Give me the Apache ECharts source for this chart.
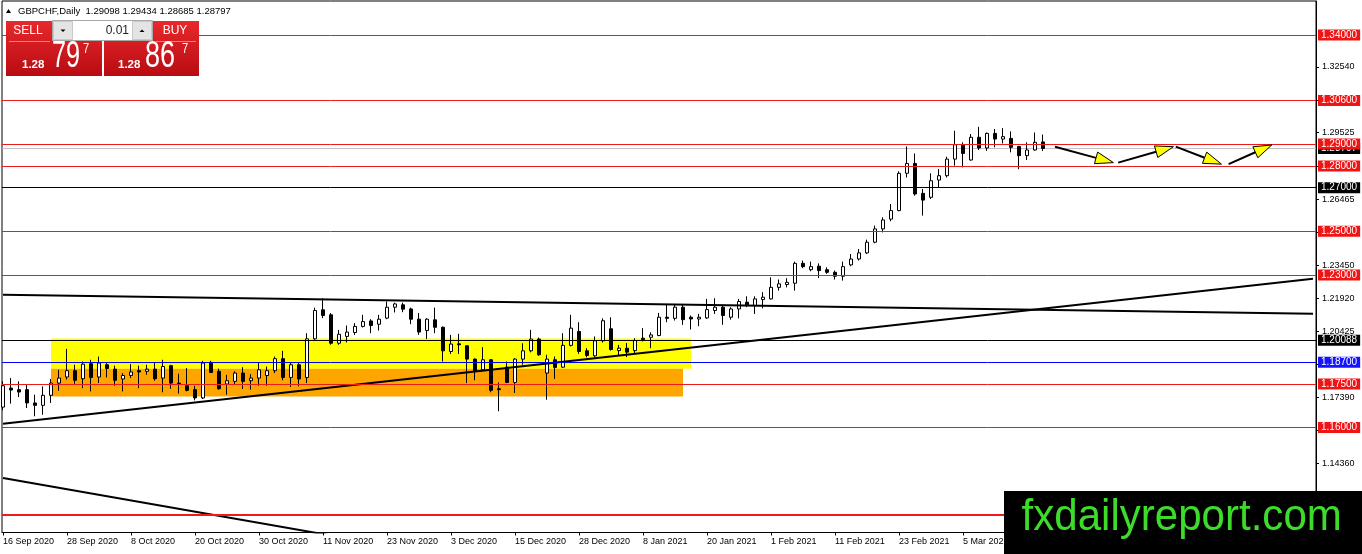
<!DOCTYPE html>
<html>
<head>
<meta charset="utf-8">
<title>GBPCHF Daily</title>
<script src="https://cdn.jsdelivr.net/npm/echarts@6.0.0/dist/echarts.min.js"></script>
<style>
  html, body { margin: 0; padding: 0; background: #fff; }
  #chart { width: 1362px; height: 554px; }
</style>
</head>
<body>
<div id="chart"></div>
<script>
// daily candles, bar 0 = 16 Sep 2020
const opens = [
  1.1694,1.1781,1.1774,1.1774,1.1713,1.1702,1.1748,1.1804,1.1832,1.1861,
  1.1824,1.1893,1.1832,1.1888,1.1868,1.1823,1.1839,1.1861,1.1858,1.1868,
  1.1827,1.1884,1.1804,1.1792,1.1774,1.1736,1.1899,1.1858,1.1800,1.1812,
  1.1850,1.1815,1.1827,1.1839,1.1861,1.1916,1.1830,1.1888,1.1830,1.2007,
  1.2140,1.2117,1.1987,1.2018,1.2036,1.2064,1.2089,1.2074,1.2102,1.2152,
  1.2163,1.2144,1.2097,1.2045,1.2094,1.2060,1.1949,1.1984,1.1975,1.1914,
  1.1865,1.1911,1.1778,1.1877,1.1807,1.1914,1.1952,1.2006,1.1850,1.1911,
  1.1877,1.1977,1.2041,1.1952,1.1929,1.1998,1.2053,1.1953,1.1964,1.1953,
  1.2010,1.2014,1.2022,1.2106,1.2101,1.2152,1.2106,1.2098,1.2103,1.2137,
  1.2152,1.2106,1.2144,1.2175,1.2159,1.2187,1.2190,1.2243,1.2256,1.2262,
  1.2353,1.2324,1.2340,1.2324,1.2312,1.2294,1.2346,1.2373,1.2401,1.2450,
  1.2511,1.2556,1.2595,1.2766,1.2811,1.2674,1.2656,1.2735,1.2755,1.2831,
  1.2897,1.2827,1.2931,1.2882,1.2949,1.2923,1.2926,1.2889,1.2847,1.2873,
  1.29098
];
const highs = [
  1.1812,1.1827,1.1812,1.1797,1.1751,1.1789,1.1823,1.1865,1.1961,1.1888,
  1.1903,1.1911,1.1926,1.1896,1.1884,1.1850,1.1891,1.1884,1.1888,1.1896,
  1.1911,1.1888,1.1847,1.1873,1.1792,1.1906,1.1906,1.1870,1.1842,1.1858,
  1.1877,1.1845,1.1896,1.1880,1.1926,1.1952,1.1899,1.1896,1.2033,1.2150,
  1.2193,1.2125,1.2048,1.2068,1.2079,1.2117,1.2097,1.2117,1.2178,1.2173,
  1.2173,1.2150,1.2125,1.2102,1.2150,1.2064,1.2025,1.2030,1.1977,1.1917,
  1.1969,1.1914,1.1807,1.1903,1.1919,1.1987,1.2048,1.2013,1.1934,1.1926,
  1.2033,1.2117,1.2083,1.1964,1.2018,1.2101,1.2106,1.1979,1.1988,1.2010,
  1.2056,1.2037,1.2126,1.2163,1.2163,1.2163,1.2114,1.2121,1.2190,1.2193,
  1.2163,1.2152,1.2190,1.2202,1.2202,1.2221,1.2289,1.2279,1.2285,1.2361,
  1.2366,1.2361,1.2353,1.2335,1.2320,1.2361,1.2396,1.2419,1.2462,1.2526,
  1.2564,1.2625,1.2775,1.2889,1.2857,1.2694,1.2766,1.2785,1.2842,1.2961,
  1.2908,1.2946,1.2979,1.2953,1.2969,1.2973,1.2958,1.2892,1.2908,1.2953,
  1.29434
];
const lows = [
  1.1680,1.1710,1.1740,1.1690,1.1652,1.1659,1.1713,1.1769,1.1820,1.1801,
  1.1781,1.1766,1.1804,1.1830,1.1792,1.1766,1.1827,1.1781,1.1842,1.1815,
  1.1762,1.1778,1.1756,1.1766,1.1725,1.1731,1.1850,1.1774,1.1751,1.1797,
  1.1777,1.1774,1.1792,1.1792,1.1850,1.1817,1.1786,1.1789,1.1804,1.2002,
  1.2102,1.1980,1.1980,1.1990,1.2025,1.2059,1.2033,1.2045,1.2097,1.2128,
  1.2129,1.2074,1.2025,1.2006,1.2033,1.1903,1.1938,1.1938,1.1804,1.1817,
  1.1858,1.1762,1.1675,1.1804,1.1759,1.1888,1.1945,1.1929,1.1728,1.1823,
  1.1873,1.1972,1.1938,1.1922,1.1923,1.1990,1.1953,1.1930,1.1923,1.1938,
  1.1995,1.1964,1.2019,1.2083,1.2091,1.2071,1.2050,1.2065,1.2098,1.2121,
  1.2071,1.2095,1.2101,1.2152,1.2121,1.2147,1.2187,1.2228,1.2243,1.2228,
  1.2331,1.2317,1.2286,1.2305,1.2279,1.2274,1.2340,1.2366,1.2396,1.2445,
  1.2495,1.2546,1.2592,1.2747,1.2663,1.2572,1.2648,1.2701,1.2747,1.2801,
  1.2793,1.2824,1.2873,1.2869,1.2885,1.2903,1.2862,1.2785,1.2827,1.2869,
  1.28685
];
const closes = [
  1.1792,1.1772,1.1763,1.1713,1.1702,1.1748,1.1804,1.1827,1.1861,1.1817,
  1.1891,1.1830,1.1896,1.1871,1.1817,1.1839,1.1855,1.1855,1.1868,1.1824,
  1.1880,1.1804,1.1800,1.1771,1.1736,1.1896,1.1853,1.1778,1.1815,1.1850,
  1.1812,1.1827,1.1865,1.1861,1.1916,1.1830,1.1888,1.1823,1.2007,1.2137,
  1.2114,1.1987,1.2028,1.2038,1.2064,1.2086,1.2068,1.2097,1.2152,1.2167,
  1.2143,1.2097,1.2038,1.2097,1.2060,1.1952,1.1983,1.1980,1.1914,1.1858,
  1.1911,1.1771,1.1774,1.1807,1.1914,1.1952,1.2006,1.1934,1.1914,1.1876,
  1.1977,1.2056,1.1949,1.1931,1.1998,1.2090,1.1958,1.1964,1.1946,1.1999,
  1.2004,1.2025,1.2106,1.2101,1.2152,1.2095,1.2098,1.2106,1.2141,1.2152,
  1.2114,1.2144,1.2178,1.2163,1.2190,1.2198,1.2243,1.2259,1.2266,1.2353,
  1.2338,1.2338,1.2320,1.2312,1.2294,1.2338,1.2373,1.2401,1.2450,1.2511,
  1.2552,1.2595,1.2766,1.2811,1.2671,1.2643,1.2732,1.2755,1.2831,1.2897,
  1.2857,1.2931,1.2882,1.2949,1.2923,1.2934,1.2885,1.2847,1.2873,1.2908,
  1.28797
];

// x axis: bar index of each date label
const dateTicks = [0, 8, 16, 24, 32, 40, 48, 56, 64, 72, 80, 88, 96, 104, 112, 120, 128];
const dateLabels = ['16 Sep 2020', '28 Sep 2020', '8 Oct 2020', '20 Oct 2020', '30 Oct 2020',
  '11 Nov 2020', '23 Nov 2020', '3 Dec 2020', '15 Dec 2020', '28 Dec 2020', '8 Jan 2021',
  '20 Jan 2021', '1 Feb 2021', '11 Feb 2021', '23 Feb 2021', '5 Mar 2021', '17 Mar 2021'];

// price scale ticks on the right
const priceTicks = [1.3254, 1.3101, 1.29525, 1.27995, 1.26465, 1.24955, 1.2345, 1.2192,
  1.20425, 1.189, 1.1739, 1.1589, 1.1436, 1.1283];

// horizontal levels
const redLevels = [1.34, 1.306, 1.29, 1.28, 1.25, 1.23, 1.175, 1.16, 1.12];
const blackLevels = [1.27, 1.20088];
const blueLevels = [1.187];
const bid = 1.28797;
const ask = 1.28867;

// trend lines [bar, price]
const upperLine = [[0, 1.2209], [163.75, 1.2122]];
const risingLine = [[0, 1.1618], [163.75, 1.2282]];
const fallingLine = [[0, 1.1369], [60, 1.0983]];

// zones [fromBar, toBar, topPrice, bottomPrice]
const yellowZone = [6, 86, 1.20088, 1.187];
const orangeZone = [6, 85, 1.187, 1.1743];

// projected path arrows [bar1, price1, bar2, price2]
const arrows = [
  [131.5, 1.2888, 138.8, 1.2815],
  [139.4, 1.2815, 146.3, 1.2888],
  [146.6, 1.2888, 152.3, 1.2808],
  [153.2, 1.2808, 158.6, 1.2896]
];

const symbolName = 'GBPCHF';
const period = 'Daily';

const X_MIN = -0.125, X_MAX = 164.125;
const candles = opens.map((o, i) => [i, o, closes[i], lows[i], highs[i]]);
const last = opens.length - 1;

const FONT = 'Liberation Sans, Arial, sans-serif';
const RED = '#ec1c1c';

function priceLabel(bg) {
  return {
    show: true, color: '#fff', backgroundColor: bg,
    fontFamily: FONT, fontSize: 10, lineHeight: 10,
    padding: [1, 3, 0, 3]
  };
}

function levelLine(price, color, bg, width) {
  return {
    yAxis: price,
    lineStyle: { color: color, width: width || 1, type: 'solid' },
    label: Object.assign(priceLabel(bg), { position: 'end', distance: 2, formatter: price.toFixed(5) })
  };
}

const levels = redLevels.map(p => levelLine(p, RED, '#f01414', p === 1.12 ? 2 : 1))
  .concat(blackLevels.map(p => levelLine(p, '#000', '#000')))
  .concat(blueLevels.map(p => levelLine(p, '#0000ff', '#1414ff')));

const chart = echarts.init(document.getElementById('chart'));

const sellStr = bid.toFixed(5), buyStr = ask.toFixed(5);
const header = symbolName + ',' + period + '  ' + [opens[last], highs[last], lows[last], closes[last]].map(v => v.toFixed(5)).join(' ');

const redGrad = new echarts.graphic.LinearGradient(0, 0, 0, 1, [
  { offset: 0, color: '#e8282c' }, { offset: 1, color: '#b80c12' }
]);

function txt(x, y, s, size, opts) {
  return Object.assign({
    type: 'text', x: x, y: y, z: 110,
    style: Object.assign({
      text: s, fill: '#fff', fontFamily: FONT, fontSize: size,
      align: 'left', verticalAlign: 'middle'
    }, (opts && opts.style) || {})
  }, (opts && opts.el) || {});
}

const option = {
  animation: false,
  backgroundColor: '#fff',
  grid: {
    left: 2, right: 46, top: 1, bottom: 21.5,
    show: true, borderColor: '#000', borderWidth: 1, backgroundColor: '#fff'
  },
  xAxis: {
    type: 'value', min: X_MIN, max: X_MAX,
    axisLine: { show: true, onZero: false, lineStyle: { color: '#000' } },
    axisTick: { show: true, length: 3, customValues: dateTicks, lineStyle: { color: '#000' } },
    axisLabel: {
      customValues: dateTicks, margin: 5, align: 'left',
      fontFamily: FONT, fontSize: 9, color: '#000',
      formatter: v => dateLabels[dateTicks.indexOf(Math.round(v))] || ''
    },
    splitLine: { show: false }
  },
  yAxis: {
    type: 'value', position: 'right', min: 1.1119, max: 1.3556, scale: true,
    axisLine: { show: true, onZero: false, lineStyle: { color: '#000' } },
    axisTick: { show: true, length: 3, customValues: priceTicks, lineStyle: { color: '#000' } },
    axisLabel: {
      customValues: priceTicks, margin: 6,
      fontFamily: FONT, fontSize: 9, color: '#000',
      formatter: v => v.toFixed(5)
    },
    splitLine: { show: false }
  },
  series: [
    {
      type: 'line', name: 'falling', data: fallingLine, symbol: 'none', silent: true,
      lineStyle: { color: '#000', width: 2 },
      markArea: {
        silent: true,
        data: [
          [{ coord: [yellowZone[0], yellowZone[2]], itemStyle: { color: '#ffff00' } },
           { coord: [yellowZone[1], yellowZone[3]] }],
          [{ coord: [orangeZone[0], orangeZone[2]], itemStyle: { color: '#ffa500' } },
           { coord: [orangeZone[1], orangeZone[3]] }]
        ]
      }
    },
    {
      // bid line with its price tag, under the level tags
      type: 'line', name: 'bid', data: [[X_MIN, bid], [X_MAX, bid]], symbol: 'none', silent: true, z: 2,
      lineStyle: { color: '#c0c0c0', width: 1 },
      endLabel: Object.assign(priceLabel('#000'), { distance: 2, formatter: bid.toFixed(5) })
    },
    {
      type: 'candlestick', name: symbolName, data: candles,
      encode: { x: 0, y: [1, 2, 3, 4] },
      barWidth: 4, z: 3, silent: true,
      itemStyle: { color: '#fff', color0: '#000', borderColor: '#000', borderColor0: '#000', borderWidth: 1 }
    },
    {
      type: 'line', name: 'upper', data: upperLine, symbol: 'none', silent: true, z: 4,
      lineStyle: { color: '#000', width: 2 },
      markLine: { silent: true, symbol: ['none', 'none'], data: levels }
    },
    {
      type: 'line', name: 'rising', data: risingLine, symbol: 'none', silent: true, z: 4,
      lineStyle: { color: '#000', width: 2 }
    },
    {
      type: 'custom', name: 'path', data: arrows, z: 6, silent: true,
      encode: { x: [0, 2], y: [1, 3] },
      renderItem: function (params, api) {
        const a = api.coord([api.value(0), api.value(1)]);
        const b = api.coord([api.value(2), api.value(3)]);
        const dx = b[0] - a[0], dy = b[1] - a[1];
        const len = Math.sqrt(dx * dx + dy * dy);
        const ux = dx / len, uy = dy / len;
        const hl = 18, hw = 6;
        const bx = b[0] - ux * hl, by = b[1] - uy * hl;
        return {
          type: 'group',
          children: [
            { type: 'line', shape: { x1: a[0], y1: a[1], x2: bx, y2: by },
              style: { stroke: '#000', lineWidth: 2 } },
            { type: 'polygon',
              shape: { points: [[b[0], b[1]], [bx - uy * hw, by + ux * hw], [bx + uy * hw, by - ux * hw]] },
              style: { fill: '#ffff00', stroke: '#000', lineWidth: 1 } }
          ]
        };
      }
    }
  ],
  graphic: [
    // header
    { type: 'polygon', z: 110, shape: { points: [[6, 13], [11, 13], [8.5, 9]] }, style: { fill: '#000' } },
    txt(18, 11, header, 9.5, { style: { fill: '#000' } }),
    // one-click trading panel
    { type: 'rect', z: 105, shape: { x: 6, y: 21, width: 96, height: 55 }, style: { fill: redGrad } },
    { type: 'rect', z: 105, shape: { x: 104, y: 21, width: 95, height: 55 }, style: { fill: redGrad } },
    { type: 'line', z: 106, shape: { x1: 9, y1: 41.5, x2: 50, y2: 41.5 }, style: { stroke: 'rgba(255,255,255,0.45)', lineWidth: 1 } },
    { type: 'line', z: 106, shape: { x1: 156, y1: 41.5, x2: 196, y2: 41.5 }, style: { stroke: 'rgba(255,255,255,0.45)', lineWidth: 1 } },
    { type: 'rect', z: 107, shape: { x: 52.5, y: 20.5, width: 100, height: 20 }, style: { fill: '#fff', stroke: '#a8a8a8' } },
    { type: 'rect', z: 108, shape: { x: 53.5, y: 21.5, width: 19, height: 18 }, style: { fill: '#e4e4e4', stroke: '#c8c8c8' } },
    { type: 'rect', z: 108, shape: { x: 132.5, y: 21.5, width: 19, height: 18 }, style: { fill: '#e4e4e4', stroke: '#c8c8c8' } },
    { type: 'polygon', z: 109, shape: { points: [[60.5, 29.5], [65.5, 29.5], [63, 32]] }, style: { fill: '#000' } },
    { type: 'polygon', z: 109, shape: { points: [[139.5, 32], [144.5, 32], [142, 29.5]] }, style: { fill: '#000' } },
    txt(129, 31, '0.01', 12, { style: { fill: '#222', align: 'right' } }),
    txt(28, 31, 'SELL', 12, { style: { align: 'center' } }),
    txt(175, 31, 'BUY', 12, { style: { align: 'center' } }),
    txt(22, 65, sellStr.slice(0, 4), 11.5, { style: { fontWeight: 'bold' } }),
    txt(52, 57, sellStr.slice(4, 6), 36, { el: { scaleX: 0.7 } }),
    txt(83, 49, sellStr.slice(6), 14, { el: { scaleX: 0.8 } }),
    txt(118, 65, buyStr.slice(0, 4), 11.5, { style: { fontWeight: 'bold' } }),
    txt(145, 57, buyStr.slice(4, 6), 36, { el: { scaleX: 0.75 } }),
    txt(182, 49, buyStr.slice(6), 14, { el: { scaleX: 0.8 } }),
    // watermark logo
    { type: 'rect', z: 120, shape: { x: 1004, y: 491, width: 358, height: 63 }, style: { fill: '#000' } },
    { type: 'text', z: 121, x: 1021.5, y: 517.5, scaleX: 0.935,
      style: { text: 'fxdailyreport.com', fill: '#3ddc2a', fontFamily: FONT, fontSize: 45, align: 'left', verticalAlign: 'middle' } }
  ]
};

chart.setOption(option);
</script>
</body>
</html>
